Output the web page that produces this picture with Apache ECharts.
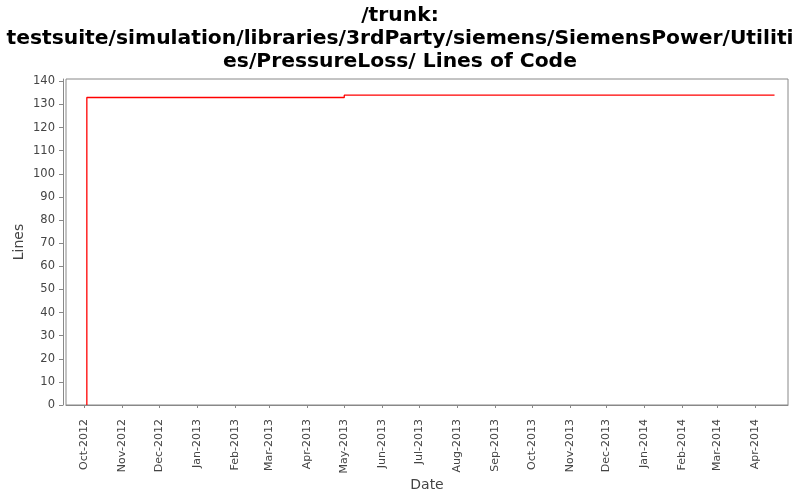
<!DOCTYPE html>
<html>
<head>
<meta charset="utf-8">
<script src="https://cdn.jsdelivr.net/npm/echarts@6/dist/echarts.min.js"></script>
<style>html,body{margin:0;padding:0;background:#fff}#c{width:800px;height:500px}</style>
</head>
<body>
<div id="c"></div>
<script>
var titleLines = ['/trunk:', 'testsuite/simulation/libraries/3rdParty/siemens/SiemensPower/Utiliti', 'es/PressureLoss/ Lines of Code'];
var dates = ['2012-10-03', '2012-10-03', '2013-05-01', '2014-04-17'];
var lines = [0, 133, 134, 134];
var xMin = '2012-09-16';
var xMax = '2014-04-28';
var yMin = 0, yMax = 141;
var yTickValues = [0, 10, 20, 30, 40, 50, 60, 70, 80, 90, 100, 110, 120, 130, 140];
var monthNames = ['Jan','Feb','Mar','Apr','May','Jun','Jul','Aug','Sep','Oct','Nov','Dec'];

var chart = echarts.init(document.getElementById('c'), null, {renderer: 'canvas'});
var data = dates.map(function (d, i) { return [d, lines[i]]; });
chart.setOption({
  animation: false,
  title: {
    text: titleLines.join('\n'),
    left: 'center',
    top: -1,
    textStyle: {fontFamily: 'DejaVu Sans', fontWeight: 'bold', fontSize: 20.3, color: '#000', lineHeight: 23}
  },
  grid: {left: 66, right: 12, top: 79, bottom: 95, show: true, borderColor: '#888', borderWidth: 1, backgroundColor: '#fff', outerBoundsMode: 'none', containLabel: false},
  xAxis: {
    type: 'time',
    min: xMin,
    max: xMax,
    offset: 5,
    minInterval: 28 * 86400000,
    maxInterval: 31 * 86400000,
    name: 'Date',
    nameLocation: 'middle',
    nameGap: 68,
    nameMoveOverlap: false,
    nameTextStyle: {fontFamily: 'DejaVu Sans', fontSize: 14, color: '#444'},
    axisLine: {show: true, lineStyle: {color: '#888'}},
    axisTick: {show: true, length: 3, lineStyle: {color: '#888'}},
    splitLine: {show: false},
    axisLabel: {
      rotate: 90,
      interval: 0,
      hideOverlap: false,
      margin: 9,
      fontFamily: 'DejaVu Sans',
      fontSize: 11,
      color: '#444',
      formatter: function (v) {
        var d = new Date(v);
        return monthNames[d.getMonth()] + '-' + d.getFullYear();
      }
    }
  },
  yAxis: {
    type: 'value',
    min: yMin,
    max: yMax,
    offset: 3,
    name: 'Lines',
    nameLocation: 'middle',
    nameGap: 37,
    nameMoveOverlap: false,
    nameTextStyle: {fontFamily: 'DejaVu Sans', fontSize: 14, color: '#444'},
    axisLine: {show: true, lineStyle: {color: '#888'}},
    axisTick: {show: true, length: 4, lineStyle: {color: '#888'}, customValues: yTickValues},
    splitLine: {show: false},
    axisLabel: {margin: 8, fontFamily: 'DejaVu Sans', fontSize: 11.5, color: '#444', customValues: yTickValues}
  },
  series: [{
    type: 'line',
    step: 'end',
    data: data,
    symbol: 'none',
    lineStyle: {color: '#ff0000', width: 1.3},
    itemStyle: {color: '#ff0000'}
  }]
});
</script>
</body>
</html>
